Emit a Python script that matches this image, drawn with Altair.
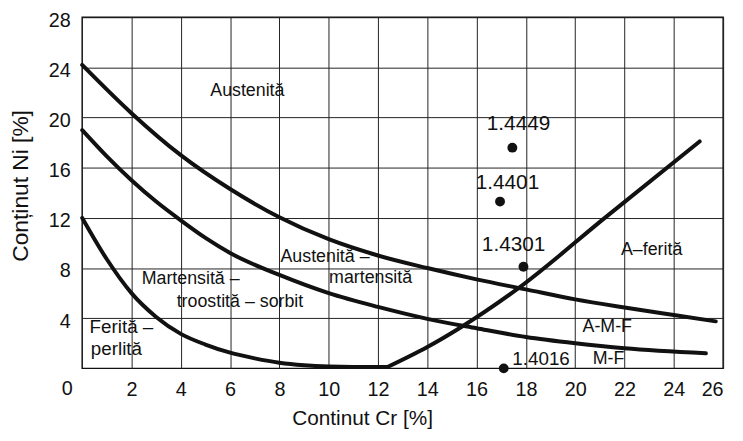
import altair as alt
import pandas as pd

# --- curves (Cr %, Ni %) ---
aust_cr = [0, 2, 4, 6, 8, 10, 12, 14, 16, 18, 20, 22, 24, 25.7]
aust_ni = [24.2, 20.35, 17.0, 14.3, 12.05, 10.3, 9.0, 8.0, 7.1, 6.3, 5.5, 4.85, 4.25, 3.75]

mart_cr = [0, 1, 2, 3, 4, 5, 6, 8, 10, 12, 14, 16, 18, 20, 22, 25.3]
mart_ni = [19.0, 16.9, 15.0, 13.3, 11.8, 10.4, 9.2, 7.45, 6.0, 4.9, 3.95, 3.2, 2.5, 2.0, 1.6, 1.2]

ferr_cr = [0, 1, 2, 3, 4, 5, 6, 7, 8, 9, 10, 11, 12.4]
ferr_ni = [12.0, 8.7, 6.0, 4.1, 2.75, 1.9, 1.25, 0.8, 0.45, 0.25, 0.15, 0.12, 0.12]

aferr_cr = [12.4, 14, 15.3, 17.7, 21.2, 25.05]
aferr_ni = [0.12, 1.7, 3.2, 6.4, 12.0, 18.1]

# --- steel grades ---
steel_names = ["1.4449", "1.4401", "1.4301", "1.4016"]
steel_cr = [17.45, 16.95, 17.9, 17.1]
steel_ni = [17.6, 13.3, 8.1, 0.0]

# --- labels ---
grade_label_text = ["1.4449", "1.4401", "1.4301"]
grade_label_cr = [17.7, 17.25, 17.5]
grade_label_ni = [19.5, 14.8, 9.8]

left_label_text = ["1.4016", "Ferită –", "perlită"]
left_label_cr = [17.45, 0.3, 0.35]
left_label_ni = [0.75, 3.3, 1.5]

region_text = ["Austenită", "Austenită –", "martensită", "Martensită –",
               "troostită – sorbit", "A–ferită", "A-M-F", "M-F"]
region_cr = [6.7, 9.85, 11.7, 4.4, 6.4, 23.1, 21.3, 21.35]
region_ni = [22.1, 8.9, 7.2, 7.1, 5.3, 9.4, 3.3, 0.75]

x_ticks = list(range(2, 27, 2))
y_ticks = list(range(4, 29, 4))

FONT = "Liberation Sans"
INK = "#111111"

rows = []
for name, xs, ys in [("aust", aust_cr, aust_ni), ("mart", mart_cr, mart_ni),
                     ("ferr", ferr_cr, ferr_ni), ("aferr", aferr_cr, aferr_ni)]:
    for i, (a, b) in enumerate(zip(xs, ys)):
        rows.append({"series": name, "order": i, "cr": a, "ni": b})
curves = pd.DataFrame(rows)

steels = pd.DataFrame({"name": steel_names, "cr": steel_cr, "ni": steel_ni})
grade_labels = pd.DataFrame({"t": grade_label_text, "cr": grade_label_cr, "ni": grade_label_ni})
left_labels = pd.DataFrame({"t": left_label_text, "cr": left_label_cr, "ni": left_label_ni})
regions = pd.DataFrame({"t": region_text, "cr": region_cr, "ni": region_ni})
origin = pd.DataFrame({"t": ["0"], "cr": [0], "ni": [0]})

x_scale = alt.Scale(domain=[0, 26], nice=False, zero=False)
y_scale = alt.Scale(domain=[0, 28], nice=False, zero=False)

x_axis = alt.Axis(values=x_ticks, title="Continut Cr [%]", grid=True, ticks=False,
                  domain=False, labelFontSize=20, labelPadding=11,
                  titleFontSize=21, titleX=283, titleY=57, titleAlign="center",
                  titleBaseline="alphabetic")
y_axis = alt.Axis(values=y_ticks, title="Conținut Ni [%]", grid=True, ticks=False,
                  domain=False, labelFontSize=20, labelPadding=12, labelOffset=3,
                  titleFontSize=23, titleX=-62, titleY=170, titleAlign="center",
                  titleBaseline="middle", titleAngle=-90)


def X():
    return alt.X("cr:Q", scale=x_scale, axis=x_axis)


def Y():
    return alt.Y("ni:Q", scale=y_scale, axis=y_axis)


lines = alt.Chart(curves).mark_line(
    color=INK, strokeWidth=4, interpolate="monotone", strokeCap="round", clip=False
).encode(x=X(), y=Y(), detail="series:N", order="order:Q")

points = alt.Chart(steels).mark_circle(size=100, color=INK, opacity=1).encode(x=X(), y=Y())

grade_text = alt.Chart(grade_labels).mark_text(
    font=FONT, fontSize=21, color=INK, align="center", baseline="middle"
).encode(x=X(), y=Y(), text="t:N")

left_text = alt.Chart(left_labels).mark_text(
    font=FONT, fontSize=19, color=INK, align="left", baseline="middle"
).encode(x=X(), y=Y(), text="t:N")

region_marks = alt.Chart(regions).mark_text(
    font=FONT, fontSize=18, color=INK, align="center", baseline="middle"
).encode(x=X(), y=Y(), text="t:N")

origin_text = alt.Chart(origin).mark_text(
    font=FONT, fontSize=20, color=INK, align="center", baseline="middle", dx=-15, dy=21
).encode(x=X(), y=Y(), text="t:N")

chart = alt.layer(lines, points, grade_text, left_text, region_marks, origin_text).properties(
    width=648, height=355,
    autosize=alt.AutoSizeParams(type="none"),
    padding={"left": 75, "top": 7, "right": 12, "bottom": 63},
    background="white",
).configure_view(
    stroke=INK, strokeWidth=1.5
).configure_axis(
    gridColor="#222222", gridWidth=1, gridOpacity=1,
    labelFont=FONT, titleFont=FONT, labelColor=INK, titleColor=INK,
    titleFontWeight="normal"
)

chart.save("out.html", embed_options={"renderer": "svg", "actions": False})
